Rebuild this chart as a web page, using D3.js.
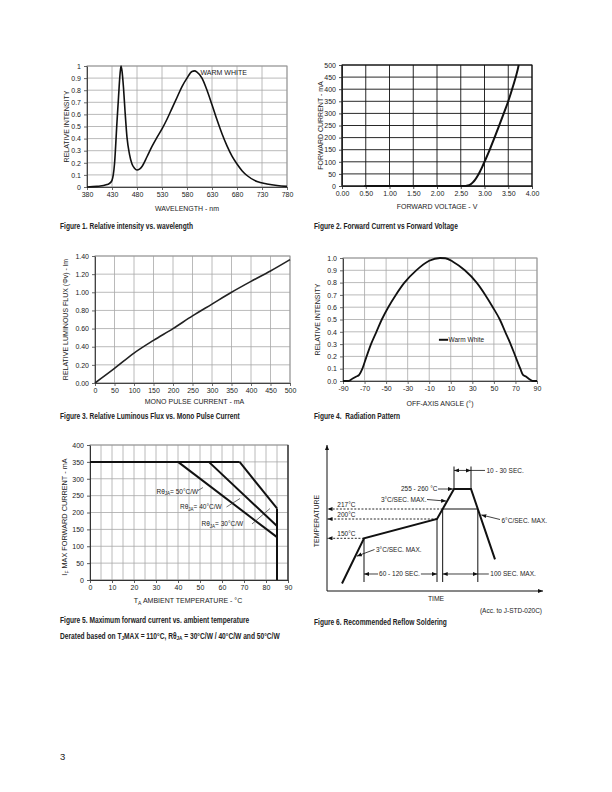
<!DOCTYPE html>
<html><head><meta charset="utf-8">
<script src="https://cdn.jsdelivr.net/npm/d3@7"></script>
<style>
html,body{margin:0;padding:0;background:#fff;}
svg{display:block;}
text{font-family:"Liberation Sans",Arial,sans-serif;fill:#222;}
</style></head><body>
<svg id="page" width="612" height="792" xmlns="http://www.w3.org/2000/svg"></svg>
<script>
// ---------- Figure 1: relative intensity vs wavelength ----------
const wlNm = [380,400,420,425,430,435,440,443,446,448,450,453,456,460,465,470,475,480,485,490,500,510,520,530,540,550,560,570,580,590,595,600,610,620,630,640,650,660,670,680,690,700,720,740,760,780];
const wlIntensity = [0,0.005,0.02,0.03,0.055,0.19,0.54,0.74,0.93,1.0,0.96,0.82,0.63,0.41,0.27,0.19,0.155,0.14,0.148,0.17,0.25,0.335,0.41,0.48,0.56,0.65,0.74,0.83,0.90,0.955,0.96,0.95,0.9,0.8,0.68,0.555,0.44,0.34,0.255,0.19,0.135,0.095,0.045,0.025,0.012,0.005];
const wlTicks = [380,430,480,530,580,630,680,730,780];
const relTicks10 = [0,0.1,0.2,0.3,0.4,0.5,0.6,0.7,0.8,0.9,1];

// ---------- Figure 2: forward current vs forward voltage ----------
const vfVolt = [0.47,1.0,1.5,2.0,2.5,2.6,2.65,2.7,2.75,2.8,2.85,2.9,2.95,3.0,3.1,3.2,3.3,3.4,3.5,3.6,3.7,3.72];
const vfCurrent = [0,0,0,0,0,0.5,2,6,14,25,40,58,78,100,145,195,245,297,350,412,482,500];
const vfVoltTicks = [0,0.5,1,1.5,2,2.5,3,3.5,4];
const vfCurrentTicks = [0,50,100,150,200,250,300,350,400,450,500];

// ---------- Figure 3: relative luminous flux vs mono pulse current ----------
const flxCurrent = [0,50,100,150,200,250,300,350,400,450,500];
const flxRel = [0,0.16,0.33,0.47,0.60,0.74,0.87,1.00,1.12,1.235,1.36];
const flxCurrentTicks = [0,50,100,150,200,250,300,350,400,450,500];
const flxRelTicks = [0,0.2,0.4,0.6,0.8,1.0,1.2,1.4];

// ---------- Figure 4: radiation pattern ----------
const angDeg = [-90,-85,-81,-78,-75,-72,-68.5,-64,-59,-54,-48,-41,-33,-22,-10,0,5,12,23,34,42,49,55.5,60.5,65.5,70,74.5,77,80,83,86,90];
const angRel = [0,0,0.02,0.035,0.05,0.1,0.19,0.3,0.4,0.5,0.6,0.7,0.8,0.9,0.978,1.0,0.998,0.97,0.9,0.8,0.7,0.6,0.5,0.4,0.3,0.2,0.1,0.05,0.035,0.015,0,0];
const angTicks = [-90,-70,-50,-30,-10,10,30,50,70,90];
const angSeries = "Warm White";

// ---------- Figure 5: derating ----------
const derateRth = ["50","40","30"];
const derateKneeTemp = [40,54,68];
const derateEndCurrent = [127,160,212];
const derateMaxCurrent = 350;
const derateMaxTemp = 85;
const derateTempTicks = [0,10,20,30,40,50,60,70,80,90];
const derateTempGrid = [5,10,15,20,25,30,35,40,45,50,55,60,65,70,75,80,85,90];
const derateCurrentTicks = [0,50,100,150,200,250,300,350,400];

// ---------- Figure 6: reflow profile (schematic) ----------
const reflowTime = [15,37,110,127,144,168];
const reflowTemp = [25,150,200,255,255,92];
const reflowLevels = [150,200,217];
const reflowLevelLabels = ["150°C","200°C","217°C"];

const svg = d3.select("#page");
const TICK_FONT = '"Liberation Sans Narrow","Liberation Sans",Arial,sans-serif';
const CAP_FONT = '"Liberation Sans Narrow","DejaVu Sans Condensed",sans-serif';

svg.append("defs").append("marker")
  .attr("id","ah").attr("markerUnits","userSpaceOnUse")
  .attr("markerWidth",6).attr("markerHeight",5).attr("refX",5).attr("refY",2)
  .attr("orient","auto-start-reverse")
  .append("path").attr("d","M0,0 L5,2 L0,4 Z").attr("fill","#111");

function grid(g, x, y, xs, ys, color, w) {
  const [y0,y1] = y.range(), [x0,x1] = x.range();
  g.append("g").selectAll("line").data(xs).join("line")
    .attr("x1",d=>x(d)).attr("x2",d=>x(d)).attr("y1",y0).attr("y2",y1)
    .attr("stroke",color).attr("stroke-width",w);
  g.append("g").selectAll("line").data(ys).join("line")
    .attr("y1",d=>y(d)).attr("y2",d=>y(d)).attr("x1",x0).attr("x2",x1)
    .attr("stroke",color).attr("stroke-width",w);
}
function axes(g, x, y, o) {
  const xa = g.append("g").attr("transform",`translate(0,${y.range()[0]})`)
    .call(d3.axisBottom(x).tickValues(o.xTicks).tickFormat(o.xFmt).tickSizeInner(3).tickSizeOuter(0).tickPadding(2));
  const ya = g.append("g").attr("transform",`translate(${x.range()[0]},0)`)
    .call(d3.axisLeft(y).tickValues(o.yTicks).tickFormat(o.yFmt).tickSizeInner(3).tickSizeOuter(0).tickPadding(3));
  [xa,ya].forEach(a=>{
    a.attr("font-family",TICK_FONT).attr("font-size",7);
    a.select(".domain").attr("stroke",o.axisColor).attr("stroke-width",o.axisWidth);
    a.selectAll(".tick line").attr("stroke",o.axisColor).attr("stroke-width",0.8);
    a.selectAll(".tick text").attr("fill","#222");
  });
}
function frame(g, x, y, color, w) {
  const [x0,x1] = x.range(), [y0,y1] = y.range();
  g.append("rect").attr("x",x0).attr("y",y1).attr("width",x1-x0).attr("height",y0-y1)
    .attr("fill","none").attr("stroke",color).attr("stroke-width",w);
}
function xTitle(g, x, yPos, txt) {
  const [x0,x1] = x.range();
  return g.append("text").attr("x",(x0+x1)/2).attr("y",yPos).attr("text-anchor","middle")
    .attr("font-size",7).text(txt);
}
function yTitle(g, y, xPos, txt) {
  const [y0,y1] = y.range();
  return g.append("text").attr("transform",`translate(${xPos},${(y0+y1)/2}) rotate(-90)`)
    .attr("text-anchor","middle").attr("font-size",7).text(txt);
}

// ===== Figure 1 =====
{
  const g = svg.append("g");
  const x = d3.scaleLinear().domain([380,780]).range([87,287]);
  const y = d3.scaleLinear().domain([0,1]).range([187,66]);
  grid(g, x, y, wlTicks, relTicks10, "#a8a8a8", 0.8);
  frame(g, x, y, "#999", 1);
  axes(g, x, y, {xTicks:wlTicks, xFmt:d=>String(d), yTicks:relTicks10, yFmt:d=>String(d), axisColor:"#444", axisWidth:1});
  g.append("path").datum(wlNm.map((d,i)=>[d,wlIntensity[i]]))
    .attr("d", d3.line().x(d=>x(d[0])).y(d=>y(d[1])).curve(d3.curveMonotoneX))
    .attr("fill","none").attr("stroke","#111").attr("stroke-width",1.6);
  g.append("text").attr("x",x(607)).attr("y",y(0.925)).attr("font-size",7).text("WARM WHITE");
  xTitle(g, x, 211, "WAVELENGTH - nm");
  yTitle(g, y, 69, "RELATIVE INTENSITY");
}

// ===== Figure 2 =====
{
  const g = svg.append("g");
  const x = d3.scaleLinear().domain([0,4]).range([342,532]);
  const y = d3.scaleLinear().domain([0,500]).range([186,65]);
  grid(g, x, y, vfVoltTicks, vfCurrentTicks, "#111", 0.9);
  frame(g, x, y, "#111", 1);
  axes(g, x, y, {xTicks:vfVoltTicks, xFmt:d3.format(".2f"), yTicks:vfCurrentTicks, yFmt:d=>String(d), axisColor:"#222", axisWidth:1});
  g.append("path").datum(vfVolt.map((d,i)=>[d,vfCurrent[i]]))
    .attr("d", d3.line().x(d=>x(d[0])).y(d=>y(d[1])).curve(d3.curveMonotoneX))
    .attr("fill","none").attr("stroke","#111").attr("stroke-width",2);
  xTitle(g, x, 209, "FORWARD VOLTAGE - V");
  yTitle(g, y, 323, "FORWARD CURRENT - mA");
}

// ===== Figure 3 =====
{
  const g = svg.append("g");
  const x = d3.scaleLinear().domain([0,500]).range([95,290]);
  const y = d3.scaleLinear().domain([0,1.4]).range([383,256]);
  grid(g, x, y, flxCurrentTicks, flxRelTicks, "#a8a8a8", 0.8);
  frame(g, x, y, "#999", 1);
  axes(g, x, y, {xTicks:flxCurrentTicks, xFmt:d=>String(d), yTicks:flxRelTicks, yFmt:d3.format(".2f"), axisColor:"#444", axisWidth:1});
  g.append("path").datum(flxCurrent.map((d,i)=>[d,flxRel[i]]))
    .attr("d", d3.line().x(d=>x(d[0])).y(d=>y(d[1])).curve(d3.curveMonotoneX))
    .attr("fill","none").attr("stroke","#222").attr("stroke-width",1.6);
  g.append("text").attr("x",(95+290)/2+2).attr("y",404).attr("text-anchor","middle").attr("font-size",7).text("MONO PULSE CURRENT - mA");
  g.append("text").attr("transform",`translate(68,${(383+256)/2}) rotate(-90)`).attr("text-anchor","middle")
    .attr("font-size",7).text("RELATIVE LUMINOUS FLUX (Φv) - lm");
}

// ===== Figure 4 =====
{
  const g = svg.append("g");
  const x = d3.scaleLinear().domain([-90,90]).range([343,537]);
  const y = d3.scaleLinear().domain([0,1]).range([381,258]);
  grid(g, x, y, angTicks, relTicks10, "#a8a8a8", 0.8);
  frame(g, x, y, "#999", 1);
  axes(g, x, y, {xTicks:angTicks, xFmt:d=>String(d), yTicks:relTicks10, yFmt:d3.format(".1f"), axisColor:"#444", axisWidth:1});
  g.append("path").datum(angDeg.map((d,i)=>[d,angRel[i]]))
    .attr("d", d3.line().x(d=>x(d[0])).y(d=>y(d[1])).curve(d3.curveMonotoneX))
    .attr("fill","none").attr("stroke","#111").attr("stroke-width",1.8);
  // legend
  g.append("line").attr("x1",x(-1)).attr("x2",x(7.5)).attr("y1",y(0.335)).attr("y2",y(0.335))
    .attr("stroke","#111").attr("stroke-width",2);
  g.append("text").attr("x",x(8)).attr("y",y(0.335)+2.3).attr("font-size",6.5).text(angSeries);
  xTitle(g, x, 406, "OFF-AXIS ANGLE (°)");
  yTitle(g, y, 320, "RELATIVE INTENSITY");
}

// ===== Figure 5 =====
{
  const g = svg.append("g");
  const x = d3.scaleLinear().domain([0,90]).range([90,288]);
  const y = d3.scaleLinear().domain([0,400]).range([580,445]);
  grid(g, x, y, derateTempGrid, derateCurrentTicks, "#a8a8a8", 0.8);
  frame(g, x, y, "#999", 1);
  g.append("line").attr("x1",x(90)).attr("x2",x(90)).attr("y1",y(0)).attr("y2",y(400)).attr("stroke","#222").attr("stroke-width",1.2);
  axes(g, x, y, {xTicks:derateTempTicks, xFmt:d=>String(d), yTicks:derateCurrentTicks, yFmt:d=>String(d), axisColor:"#333", axisWidth:1});
  const line = d3.line().x(d=>x(d[0])).y(d=>y(d[1]));
  const lastKnee = d3.max(derateKneeTemp);
  g.append("path").datum([[0,derateMaxCurrent],[lastKnee,derateMaxCurrent]]).attr("d",line)
    .attr("fill","none").attr("stroke","#111").attr("stroke-width",2);
  derateKneeTemp.forEach((k,i)=>{
    g.append("path").datum([[k,derateMaxCurrent],[derateMaxTemp,derateEndCurrent[i]]]).attr("d",line)
      .attr("fill","none").attr("stroke","#111").attr("stroke-width",2);
  });
  g.append("path").datum([[derateMaxTemp,d3.max(derateEndCurrent)],[derateMaxTemp,0]]).attr("d",line)
    .attr("fill","none").attr("stroke","#111").attr("stroke-width",2);
  // labels
  const labPos = [[156.5,493.5],[180,509],[201.5,526]];
  const leader = [[[198,490.5],[203,487.5]],[[226.5,507],[240,498.5]],[[252,524],[270,508.5]]];
  derateRth.forEach((r,i)=>{
    const t = g.append("text").attr("x",labPos[i][0]).attr("y",labPos[i][1]).attr("font-size",6.5);
    t.append("tspan").text("Rθ");
    t.append("tspan").attr("font-size",4.5).attr("dy",1.5).text("JA");
    t.append("tspan").attr("dy",-1.5).text(`= ${r}°C/W`);
    g.append("line").attr("x1",leader[i][0][0]).attr("y1",leader[i][0][1]).attr("x2",leader[i][1][0]).attr("y2",leader[i][1][1])
      .attr("stroke","#333").attr("stroke-width",0.7);
  });
  const xt = g.append("text").attr("x",188).attr("y",603).attr("text-anchor","middle").attr("font-size",7);
  xt.append("tspan").text("T");
  xt.append("tspan").attr("font-size",5).attr("dy",1.5).text("A");
  xt.append("tspan").attr("dy",-1.5).text(" AMBIENT TEMPERATURE - °C");
  const yt = g.append("text").attr("transform",`translate(67,517) rotate(-90)`).attr("text-anchor","middle").attr("font-size",7.3);
  yt.append("tspan").text("I");
  yt.append("tspan").attr("font-size",5).attr("dy",1.5).text("F");
  yt.append("tspan").attr("dy",-1.5).text(" MAX FORWARD CURRENT - mA");
}

// ===== Figure 6 =====
{
  const g = svg.append("g");
  const xT = d3.scaleLinear().domain([0,216]).range([327,543]);
  const yT = d3.scaleLinear().domain([0,30,150,200,217,255,300]).range([591,582,538.3,519,509,489,445]);
  const ink = "#111";
  g.append("line").attr("x1",xT(0)).attr("x2",xT(0)).attr("y1",yT(0)).attr("y2",yT(300))
    .attr("stroke",ink).attr("stroke-width",1).attr("marker-end","url(#ah)");
  g.append("line").attr("x1",xT(0)).attr("x2",xT(216)).attr("y1",yT(0)).attr("y2",yT(0))
    .attr("stroke",ink).attr("stroke-width",1).attr("marker-end","url(#ah)");
  const pts = reflowTime.map((t,i)=>[t,reflowTemp[i]]);
  g.append("path").datum(pts).attr("d",d3.line().x(d=>xT(d[0])).y(d=>yT(d[1])))
    .attr("fill","none").attr("stroke",ink).attr("stroke-width",2).attr("stroke-linejoin","miter");
  function cross(i, level) {
    const [t0,T0] = pts[i], [t1,T1] = pts[i+1];
    const f = (yT(level)-yT(T0))/(yT(T1)-yT(T0));
    return xT.invert(xT(t0)+f*(xT(t1)-xT(t0)));
  }
  const tIn = cross(2,217), tOut = cross(4,217);
  const levelTimes = [reflowTime[1], reflowTime[2], tIn];
  reflowLevels.forEach((lv,i)=>{
    g.append("line").attr("x1",xT(levelTimes[i])).attr("x2",xT(0)+0.5).attr("y1",yT(lv)).attr("y2",yT(lv))
      .attr("stroke",ink).attr("stroke-width",0.9).attr("stroke-dasharray","2,1.6").attr("marker-end","url(#ah)");
    g.append("text").attr("x",xT(10.3)).attr("y",yT(lv)-2).attr("font-size",6.5).text(reflowLevelLabels[i]);
  });
  const dimLow = 30;
  [[reflowTime[1],150],[reflowTime[2],200],[tIn,217],[tOut,217]].forEach(([t,lv])=>{
    g.append("line").attr("x1",xT(t)).attr("x2",xT(t)).attr("y1",yT(lv)).attr("y2",yT(dimLow))
      .attr("stroke",ink).attr("stroke-width",1);
  });
  g.append("line").attr("x1",xT(tIn)).attr("x2",xT(tOut)).attr("y1",yT(217)).attr("y2",yT(217))
    .attr("stroke",ink).attr("stroke-width",1);
  const dimT = 52;
  const c60 = (xT(reflowTime[1])+xT(reflowTime[2]))/2-1;
  const t60 = g.append("text").attr("x",c60).attr("y",yT(dimT)+2.3)
    .attr("text-anchor","middle").attr("font-size",6.5).text("60 - 120 SEC.");
  const w60 = t60.node().getComputedTextLength();
  g.append("line").attr("x1",c60-w60/2-1).attr("x2",xT(reflowTime[1])).attr("y1",yT(dimT)).attr("y2",yT(dimT))
    .attr("stroke",ink).attr("stroke-width",0.8).attr("marker-end","url(#ah)");
  g.append("line").attr("x1",c60+w60/2+1).attr("x2",xT(reflowTime[2])).attr("y1",yT(dimT)).attr("y2",yT(dimT))
    .attr("stroke",ink).attr("stroke-width",0.8).attr("marker-end","url(#ah)");
  g.append("line").attr("x1",xT(tIn)).attr("x2",xT(tOut)).attr("y1",yT(dimT)).attr("y2",yT(dimT))
    .attr("stroke",ink).attr("stroke-width",0.8).attr("marker-start","url(#ah)").attr("marker-end","url(#ah)");
  g.append("line").attr("x1",xT(tOut)).attr("x2",xT(tOut)+11).attr("y1",yT(dimT)).attr("y2",yT(dimT))
    .attr("stroke",ink).attr("stroke-width",0.8);
  g.append("text").attr("x",xT(tOut)+12.5).attr("y",yT(dimT)+2.3).attr("font-size",6.5).text("100 SEC. MAX.");
  const topDim = 274, topTick = 278;
  [reflowTime[3],reflowTime[4]].forEach(t=>{
    g.append("line").attr("x1",xT(t)).attr("x2",xT(t)).attr("y1",yT(255)).attr("y2",yT(topTick))
      .attr("stroke",ink).attr("stroke-width",1);
  });
  g.append("line").attr("x1",xT(reflowTime[3])).attr("x2",xT(reflowTime[4])).attr("y1",yT(topDim)).attr("y2",yT(topDim))
    .attr("stroke",ink).attr("stroke-width",0.8).attr("marker-start","url(#ah)").attr("marker-end","url(#ah)");
  g.append("line").attr("x1",xT(reflowTime[4])).attr("x2",xT(reflowTime[4])+14).attr("y1",yT(topDim)).attr("y2",yT(topDim))
    .attr("stroke",ink).attr("stroke-width",0.8);
  g.append("text").attr("x",xT(reflowTime[4])+15.5).attr("y",yT(topDim)+2.3).attr("font-size",6.5).text("10 - 30 SEC.");
  g.append("text").attr("x",xT(reflowTime[3])-16.5).attr("y",yT(255)+2.3).attr("text-anchor","end").attr("font-size",6.5).text("255 - 260 °C");
  g.append("line").attr("x1",xT(reflowTime[3])-16).attr("x2",xT(reflowTime[3])-1).attr("y1",yT(255)).attr("y2",yT(255))
    .attr("stroke",ink).attr("stroke-width",0.8).attr("marker-end","url(#ah)");
  const pAt = (i, lv)=>[xT(cross(i,lv)), yT(lv)];
  const up = pAt(2,232), down = pAt(4,207), low = pAt(0,101);
  g.append("text").attr("x",426.5).attr("y",501.5).attr("text-anchor","end").attr("font-size",6.5).text("3°C/SEC. MAX.");
  g.append("line").attr("x1",427).attr("y1",499.5).attr("x2",up[0]-1).attr("y2",up[1])
    .attr("stroke",ink).attr("stroke-width",0.8).attr("marker-end","url(#ah)");
  g.append("text").attr("x",501.5).attr("y",522.5).attr("font-size",6.5).text("6°C/SEC. MAX.");
  g.append("line").attr("x1",500).attr("y1",519.5).attr("x2",down[0]+1.5).attr("y2",down[1])
    .attr("stroke",ink).attr("stroke-width",0.8).attr("marker-end","url(#ah)");
  g.append("text").attr("x",376).attr("y",551.5).attr("font-size",6.5).text("3°C/SEC. MAX.");
  g.append("line").attr("x1",374.5).attr("y1",549.5).attr("x2",low[0]+1.5).attr("y2",low[1])
    .attr("stroke",ink).attr("stroke-width",0.8).attr("marker-end","url(#ah)");
  g.append("text").attr("transform","translate(318.5,521) rotate(-90)").attr("text-anchor","middle").attr("font-size",7).text("TEMPERATURE");
  g.append("text").attr("x",436).attr("y",600.5).attr("text-anchor","middle").attr("font-size",6.8).text("TIME");
  g.append("text").attr("x",542).attr("y",612.5).attr("text-anchor","end").attr("font-size",6.5).text("(Acc. to J-STD-020C)");
}

// ===== Captions (uniform condensed bold) =====
function capText(x, y) {
  return svg.append("text").attr("x",x).attr("y",y).attr("font-family",CAP_FONT)
    .attr("font-weight","bold").attr("font-size",8.6).attr("fill","#111");
}
const caps = [];
caps.push(capText(60,229.5).text("Figure 1. Relative intensity vs. wavelength"));
caps.push(capText(314,229.5).text("Figure 2. Forward Current vs Forward Voltage"));
caps.push(capText(60,419).text("Figure 3. Relative Luminous Flux vs. Mono Pulse Current"));
caps.push(capText(314,419).text("Figure 4.  Radiation Pattern").attr("xml:space","preserve"));
caps.push(capText(60,623).text("Figure 5. Maximum forward current vs. ambient temperature"));
{
  const c = capText(60,639);
  c.append("tspan").text("Derated based on T");
  c.append("tspan").attr("font-size",6).attr("dy",1.5).text("J");
  c.append("tspan").attr("dy",-1.5).text("MAX = 110°C, Rθ");
  c.append("tspan").attr("font-size",6).attr("dy",1.5).text("JA");
  c.append("tspan").attr("dy",-1.5).text(" = 30°C/W / 40°C/W and 50°C/W");
  caps.push(c);
}
caps.push(capText(314,625).text("Figure 6. Recommended Reflow Soldering"));
const kCap = 133 / caps[0].node().getComputedTextLength();
caps.forEach(c=>{
  const x0 = +c.attr("x"), y0 = +c.attr("y");
  c.attr("transform",`translate(${x0},${y0}) scale(${kCap},1) translate(${-x0},${-y0})`);
});
svg.append("text").attr("x",60).attr("y",760).attr("font-family",'"Liberation Serif","DejaVu Serif",serif')
  .attr("font-size",9.5).attr("fill","#222").text("3");
</script>
</body></html>
